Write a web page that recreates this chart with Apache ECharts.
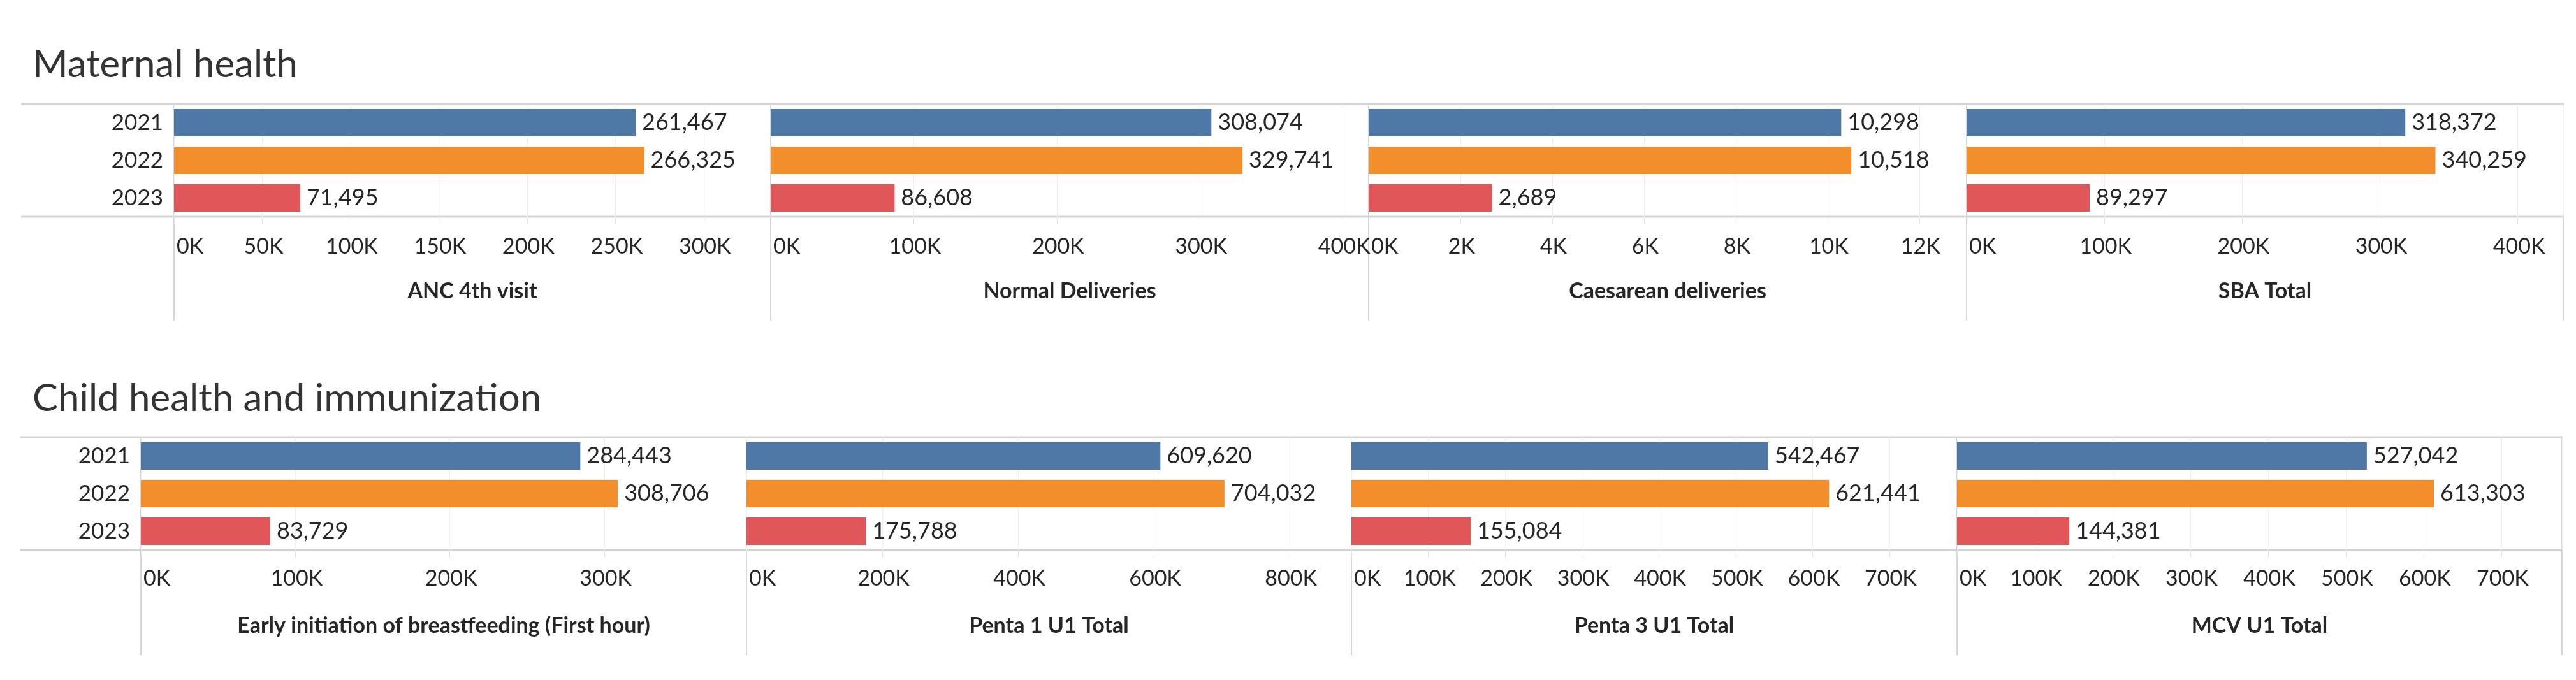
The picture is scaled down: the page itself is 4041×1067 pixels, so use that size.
<!DOCTYPE html>
<html>
<head>
<meta charset="utf-8">
<script src="https://cdn.jsdelivr.net/npm/echarts@6/dist/echarts.min.js"></script>
<style>
  html, body { margin: 0; padding: 0; background: #fff; }
  #chart { width: 4041px; height: 1067px; }
</style>
</head>
<body>
<div id="chart"></div>
<script>
// data
var years = ['2021', '2022', '2023'];

var maternalNames = ['ANC 4th visit', 'Normal Deliveries', 'Caesarean deliveries', 'SBA Total'];
var ancVisit = [261467, 266325, 71495];
var normalDeliveries = [308074, 329741, 86608];
var caesarean = [10298, 10518, 2689];
var sbaTotal = [318372, 340259, 89297];
var maternalMax = [338000, 418000, 13030, 433000];
var maternalStep = [50000, 100000, 2000, 100000];

var childNames = ['Early initiation of breastfeeding (First hour)', 'Penta 1 U1 Total', 'Penta 3 U1 Total', 'MCV U1 Total'];
var breastfeeding = [284443, 308706, 83729];
var penta1 = [609620, 704032, 175788];
var penta3 = [542467, 621441, 155084];
var mcv = [527042, 613303, 144381];
var childMax = [392000, 891000, 788000, 778000];
var childStep = [100000, 200000, 100000, 100000];

var yearColors = ['#4e79a7', '#f28e2b', '#e15759'];

// layout (pixels)
var sections = [
  { title: 'Maternal health', titleY: 97, left: 33, top: 163, height: 177, bottomLine: 503,
    edges: [273, 1209, 2147, 3085, 4021], names: maternalNames,
    values: [ancVisit, normalDeliveries, caesarean, sbaTotal], max: maternalMax, step: maternalStep,
    labelMargin: 30, nameGap: 100 },
  { title: 'Child health and immunization', titleY: 621, left: 32, top: 686, height: 177, bottomLine: 1028,
    edges: [221, 1171, 2120, 3070, 4019], names: childNames,
    values: [breastfeeding, penta1, penta3, mcv], max: childMax, step: childStep,
    labelMargin: 28, nameGap: 102 }
];

var FONT = 'Lato, "Open Sans", sans-serif';
var TEXT = '#262626';
var chart = echarts.init(document.getElementById('chart'), null, { renderer: 'canvas' });

var titles = [], grids = [], xAxes = [], yAxes = [], series = [], graphics = [];

sections.forEach(function (s) {
  titles.push({
    text: s.title, left: 46, top: s.titleY, textVerticalAlign: 'middle',
    textStyle: { fontFamily: FONT, fontSize: 60, fontWeight: 'normal', color: '#333' }
  });

  // table borders
  [s.top, s.top + s.height].forEach(function (y) {
    graphics.push({ type: 'line', z: 0, shape: { x1: s.left, y1: y, x2: s.edges[4] + 1, y2: y },
      style: { stroke: '#d3d3d3', lineWidth: 3 } });
  });
  s.edges.forEach(function (x) {
    graphics.push({ type: 'line', z: 0, shape: { x1: x, y1: s.top, x2: x, y2: s.bottomLine },
      style: { stroke: '#d6d6d6', lineWidth: 2 } });
  });

  for (var i = 0; i < 4; i++) {
    var idx = grids.length;
    grids.push({ left: s.edges[i], top: s.top, width: s.edges[i + 1] - s.edges[i], height: s.height });
    xAxes.push({
      gridIndex: idx, type: 'value', min: 0, max: s.max[i], interval: s.step[i],
      name: s.names[i], nameLocation: 'middle', nameGap: s.nameGap,
      nameTextStyle: { fontFamily: FONT, fontSize: 34, fontWeight: 'bold', color: TEXT, verticalAlign: 'top' },
      axisLine: { show: false },
      axisTick: { show: true, length: 12, lineStyle: { color: '#e2e2e2', width: 1 } },
      splitLine: { show: true, lineStyle: { color: '#efefef', width: 1 } },
      axisLabel: {
        fontFamily: FONT, fontSize: 34, color: TEXT, margin: s.labelMargin,
        showMaxLabel: false, alignMinLabel: 'left', padding: [0, 0, 0, 4],
        formatter: function (v) { return (v / 1000) + 'K'; }
      }
    });
    yAxes.push({
      gridIndex: idx, type: 'category', data: years, inverse: true,
      axisLine: { show: false }, axisTick: { show: false }, splitLine: { show: false },
      axisLabel: { show: i === 0, fontFamily: FONT, fontSize: 35, color: TEXT, margin: 17 }
    });
    series.push({
      type: 'bar', xAxisIndex: idx, yAxisIndex: idx, data: s.values[i],
      barWidth: 43,
      itemStyle: { color: function (p) { return yearColors[p.dataIndex]; } },
      label: {
        show: true, position: 'right', distance: 10,
        fontFamily: FONT, fontSize: 36, color: TEXT,
        formatter: function (p) { return p.value.toLocaleString('en-US'); }
      }
    });
  }
});

chart.setOption({
  animation: false,
  backgroundColor: '#ffffff',
  title: titles,
  grid: grids,
  xAxis: xAxes,
  yAxis: yAxes,
  series: series,
  graphic: graphics
});
</script>
</body>
</html>
